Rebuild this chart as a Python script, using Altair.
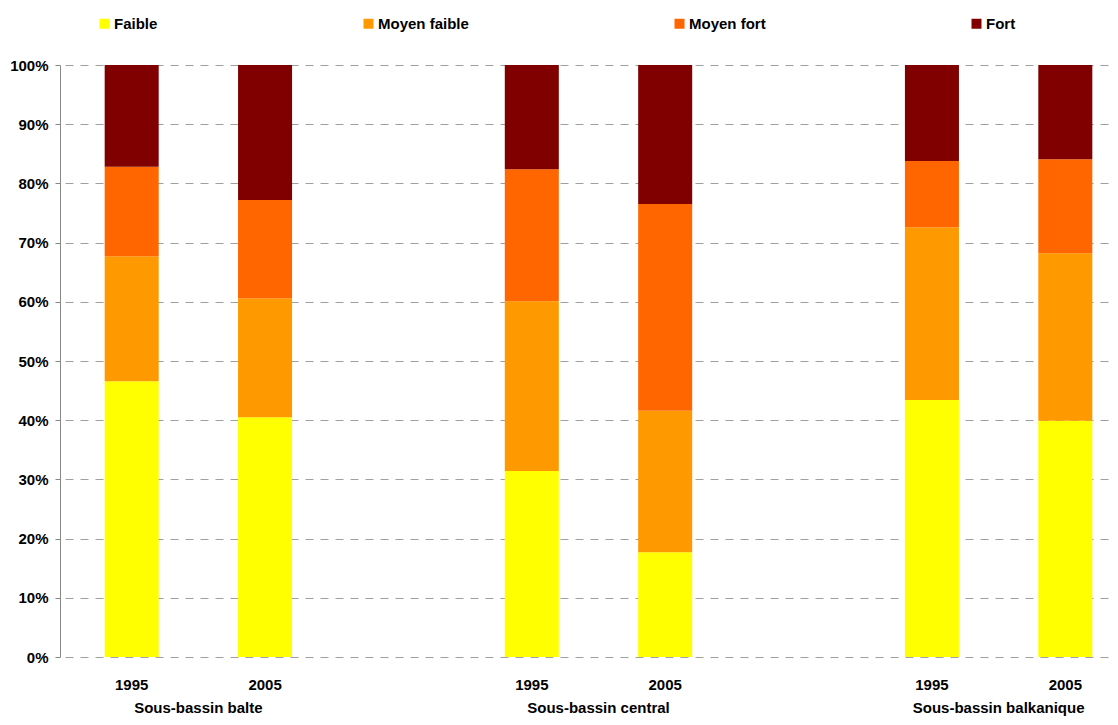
import altair as alt
import pandas as pd

# ---- data ----
groups = ["Sous-bassin balte", "Sous-bassin central", "Sous-bassin balkanique"]
years = ["1995", "2005"]
levels = ["Faible", "Moyen faible", "Moyen fort", "Fort"]
colors = ["#FFFF00", "#FF9900", "#FF6600", "#800000"]

# order of bars: balte 1995, balte 2005, central 1995, central 2005, balkanique 1995, balkanique 2005
faible = [46.6, 40.5, 31.4, 17.7, 43.4, 39.9]
moyen_faible = [21.1, 20.1, 28.7, 23.9, 29.2, 28.3]
moyen_fort = [15.1, 16.6, 22.3, 34.9, 11.2, 15.9]
fort = [17.2, 22.8, 17.6, 23.5, 16.2, 15.9]

series = [faible, moyen_faible, moyen_fort, fort]
rows = []
i = 0
for g in groups:
    for y in years:
        for k, lev in enumerate(levels):
            rows.append({"groupe": g, "annee": y, "niveau": lev, "rang": k,
                         "valeur": series[k][i]})
        i += 1
df = pd.DataFrame(rows)

FONT = "Liberation Sans"

x_enc = alt.X("groupe:N",
              scale=alt.Scale(domain=groups, range=[5, 1072], paddingInner=1 / 3, paddingOuter=0),
              axis=alt.Axis(title=None, labelAngle=0, domain=False, ticks=False,
                            labelFontSize=15, labelFontWeight="bold", labelColor="#000000",
                            labelPadding=43, grid=False))
xoff_enc = alt.XOffset("annee:N",
                       scale=alt.Scale(domain=years, paddingInner=0.595, paddingOuter=0.2975))

bars = alt.Chart(df).mark_bar().encode(
    x=x_enc,
    xOffset=xoff_enc,
    y=alt.Y("valeur:Q", stack="normalize",
            scale=alt.Scale(domain=[0, 1]),
            axis=alt.Axis(title=None, format=".0%", values=[i / 10 for i in range(11)],
                          grid=True, gridDash=[8, 7], gridColor="#a0a0a0", gridWidth=1,
                          domain=True, domainColor="#888888", ticks=True, tickColor="#888888",
                          tickSize=5, labelPadding=7, labelFontSize=15,
                          labelFontWeight="bold", labelColor="#000000")),
    color=alt.Color("niveau:N", scale=alt.Scale(domain=levels, range=colors),
                    legend=alt.Legend(orient="none", legendX=37, legendY=-49,
                                      direction="horizontal", columns=4, title=None,
                                      columnPadding=203, symbolType="square",
                                      symbolSize=100, symbolStrokeWidth=0,
                                      labelFontSize=15, labelFontWeight="bold",
                                      labelColor="#000000", labelOffset=2)),
    order=alt.Order("rang:Q", sort="ascending"),
)

year_labels = alt.Chart(df).transform_filter(
    alt.datum.niveau == "Faible"
).mark_text(fontSize=15, fontWeight="bold", baseline="middle", color="#000000").encode(
    x=alt.X("groupe:N"),
    xOffset=alt.XOffset("annee:N"),
    y=alt.value(620),
    text="annee:N",
)

chart = alt.layer(bars, year_labels).properties(
    width=1050, height=592,
    autosize=alt.AutoSizeParams(type="none"),
    padding={"left": 52, "top": 57, "right": 0, "bottom": 60},
).configure(font=FONT).configure_view(stroke=None)

chart.save("out.html", embed_options={"renderer": "svg", "actions": False})
